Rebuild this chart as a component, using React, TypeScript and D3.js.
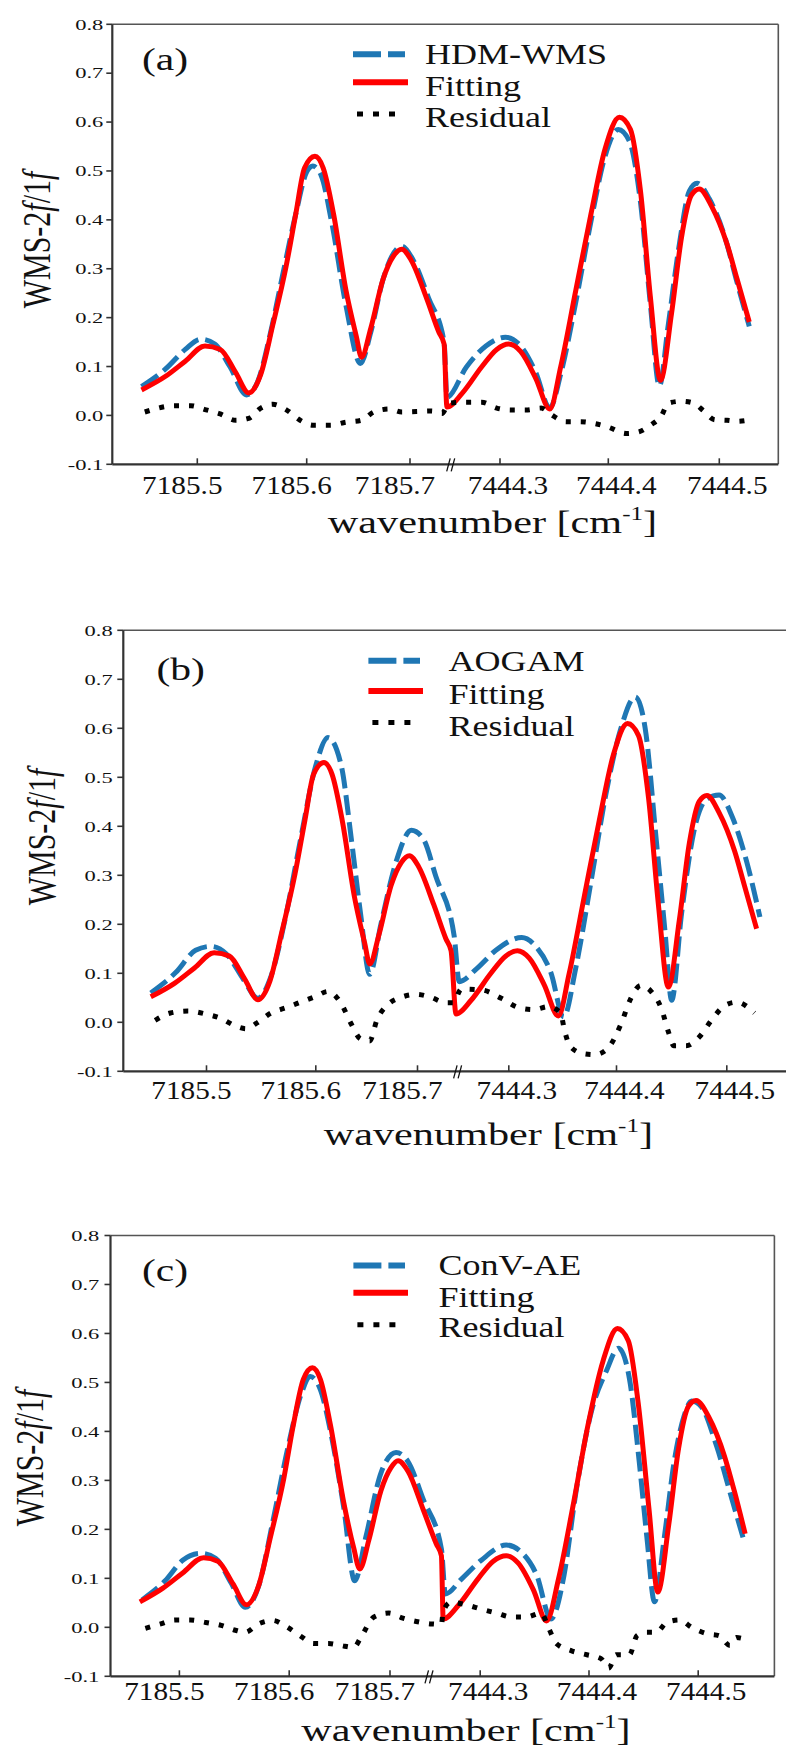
import React from "react";
import * as d3 from "d3";

type Pt = [number, number];

// ---------------- data ----------------
const yTickValues = [-0.1, 0.0, 0.1, 0.2, 0.3, 0.4, 0.5, 0.6, 0.7, 0.8];
const xTicksLeft = [7185.5, 7185.6, 7185.7];
const xTicksRight = [7444.3, 7444.4, 7444.5];
const legendA = ["HDM-WMS", "Fitting", "Residual"];
const legendB = ["AOGAM", "Fitting", "Residual"];
const legendC = ["ConV-AE", "Fitting", "Residual"];

// Fitting curve as read in panels (a) and (b)
const fitAB: Pt[] = [
  [7185.449, 0.052], [7185.471, 0.080], [7185.489, 0.111], [7185.507, 0.142], [7185.521, 0.135],
  [7185.535, 0.088], [7185.547, 0.046], [7185.558, 0.084], [7185.569, 0.185], [7185.581, 0.303],
  [7185.590, 0.412], [7185.598, 0.506], [7185.608, 0.530], [7185.616, 0.506], [7185.626, 0.412],
  [7185.638, 0.256], [7185.648, 0.162], [7185.653, 0.119], [7185.662, 0.178], [7185.674, 0.279],
  [7185.684, 0.326], [7185.692, 0.340], [7185.701, 0.318], [7185.716, 0.240], [7185.728, 0.170],
  [7185.733, 0.146],
  [7444.251, 0.017], [7444.265, 0.045], [7444.283, 0.099], [7444.297, 0.135], [7444.308, 0.146],
  [7444.319, 0.131], [7444.333, 0.076], [7444.346, 0.013], [7444.356, 0.099], [7444.370, 0.256],
  [7444.384, 0.412], [7444.397, 0.545], [7444.410, 0.610], [7444.420, 0.585], [7444.429, 0.459],
  [7444.438, 0.240], [7444.447, 0.072], [7444.457, 0.209], [7444.466, 0.365], [7444.475, 0.451],
  [7444.482, 0.463], [7444.493, 0.428], [7444.507, 0.350], [7444.516, 0.279], [7444.527, 0.191],
];

// Fitting curve as read in panel (c) (against that panel's own ticks)
const fitC: Pt[] = [
  [7185.464, 0.052], [7185.485, 0.080], [7185.503, 0.111], [7185.522, 0.142], [7185.535, 0.135],
  [7185.549, 0.088], [7185.561, 0.046], [7185.572, 0.084], [7185.583, 0.185], [7185.595, 0.303],
  [7185.604, 0.412], [7185.614, 0.506], [7185.623, 0.530], [7185.631, 0.506], [7185.641, 0.412],
  [7185.654, 0.256], [7185.664, 0.162], [7185.670, 0.119], [7185.679, 0.178], [7185.691, 0.279],
  [7185.701, 0.326], [7185.708, 0.340], [7185.718, 0.318], [7185.733, 0.240], [7185.746, 0.170],
  [7185.751, 0.146],
  [7444.266, 0.017], [7444.280, 0.045], [7444.298, 0.099], [7444.312, 0.135], [7444.324, 0.146],
  [7444.335, 0.131], [7444.349, 0.076], [7444.361, 0.013], [7444.372, 0.099], [7444.386, 0.256],
  [7444.399, 0.412], [7444.413, 0.545], [7444.426, 0.610], [7444.436, 0.585], [7444.445, 0.459],
  [7444.455, 0.240], [7444.463, 0.072], [7444.473, 0.209], [7444.482, 0.365], [7444.491, 0.451],
  [7444.498, 0.463], [7444.510, 0.428], [7444.524, 0.350], [7444.533, 0.279], [7444.543, 0.191],
];

const hdmWms: Pt[] = [
  [7185.449, 0.059], [7185.471, 0.095], [7185.489, 0.135], [7185.503, 0.156], [7185.516, 0.146],
  [7185.530, 0.099], [7185.545, 0.042], [7185.555, 0.068], [7185.567, 0.170], [7185.578, 0.287],
  [7185.590, 0.412], [7185.600, 0.498], [7185.606, 0.510], [7185.614, 0.491], [7185.624, 0.397],
  [7185.638, 0.225], [7185.652, 0.106], [7185.662, 0.170], [7185.674, 0.279], [7185.692, 0.346],
  [7185.703, 0.318], [7185.718, 0.240], [7185.733, 0.150],
  [7444.251, 0.037], [7444.269, 0.099], [7444.287, 0.142], [7444.305, 0.160], [7444.319, 0.142],
  [7444.333, 0.088], [7444.346, 0.015], [7444.356, 0.084], [7444.370, 0.232], [7444.384, 0.397],
  [7444.397, 0.530], [7444.409, 0.585], [7444.419, 0.561], [7444.429, 0.436], [7444.438, 0.225],
  [7444.446, 0.060], [7444.454, 0.185], [7444.464, 0.350], [7444.473, 0.459], [7444.480, 0.475],
  [7444.491, 0.443], [7444.505, 0.365], [7444.516, 0.272], [7444.527, 0.182],
];

const residualA: Pt[] = [
  [7185.452, 0.007], [7185.480, 0.020], [7185.494, 0.020], [7185.507, 0.012], [7185.521, 0.003],
  [7185.535, -0.010], [7185.547, -0.006], [7185.558, 0.015], [7185.569, 0.023], [7185.581, 0.012],
  [7185.594, -0.010], [7185.606, -0.020], [7185.623, -0.020], [7185.638, -0.014], [7185.653, -0.010],
  [7185.665, 0.007], [7185.680, 0.013], [7185.692, 0.007], [7185.706, 0.008], [7185.721, 0.009],
  [7185.731, 0.004],
  [7444.253, 0.025], [7444.269, 0.027], [7444.283, 0.027], [7444.297, 0.015], [7444.310, 0.011],
  [7444.324, 0.011], [7444.338, 0.015], [7444.347, 0.002], [7444.361, -0.013], [7444.374, -0.013],
  [7444.388, -0.017], [7444.400, -0.024], [7444.416, -0.037], [7444.427, -0.034], [7444.438, -0.020],
  [7444.448, 0.000], [7444.454, 0.025], [7444.466, 0.029], [7444.477, 0.025], [7444.486, 0.009],
  [7444.496, -0.009], [7444.507, -0.010], [7444.516, -0.012], [7444.525, -0.010],
];

const aogam: Pt[] = [
  [7185.449, 0.060], [7185.472, 0.102], [7185.490, 0.147], [7185.504, 0.155], [7185.518, 0.140],
  [7185.534, 0.087], [7185.547, 0.049], [7185.559, 0.094], [7185.573, 0.222], [7185.586, 0.373],
  [7185.600, 0.524], [7185.612, 0.581], [7185.625, 0.524], [7185.635, 0.373], [7185.644, 0.222],
  [7185.653, 0.098], [7185.664, 0.200], [7185.679, 0.328], [7185.694, 0.392], [7185.706, 0.373],
  [7185.718, 0.298], [7185.736, 0.177],
  [7444.254, 0.083], [7444.270, 0.109], [7444.288, 0.147], [7444.312, 0.173], [7444.325, 0.155],
  [7444.339, 0.102], [7444.351, 0.011], [7444.362, 0.109], [7444.376, 0.283], [7444.390, 0.464],
  [7444.404, 0.600], [7444.417, 0.664], [7444.426, 0.600], [7444.436, 0.373], [7444.444, 0.185],
  [7444.450, 0.045], [7444.459, 0.222], [7444.470, 0.388], [7444.482, 0.456], [7444.493, 0.464],
  [7444.505, 0.419], [7444.518, 0.328], [7444.530, 0.215],
];

const residualB: Pt[] = [
  [7185.453, 0.004], [7185.467, 0.019], [7185.483, 0.023], [7185.499, 0.017], [7185.513, 0.008],
  [7185.527, -0.008], [7185.536, -0.013], [7185.547, 0.000], [7185.559, 0.019], [7185.573, 0.030],
  [7185.586, 0.041], [7185.600, 0.053], [7185.612, 0.063], [7185.625, 0.038], [7185.635, -0.004],
  [7185.644, -0.034], [7185.653, -0.038], [7185.660, 0.004], [7185.672, 0.038], [7185.684, 0.051],
  [7185.699, 0.057], [7185.713, 0.051], [7185.728, 0.040], [7185.735, 0.040],
  [7444.256, 0.068], [7444.275, 0.066], [7444.293, 0.049], [7444.309, 0.030], [7444.323, 0.026],
  [7444.337, 0.032], [7444.348, 0.019], [7444.352, -0.019], [7444.357, -0.049], [7444.369, -0.064],
  [7444.380, -0.066], [7444.392, -0.053], [7444.404, -0.004], [7444.413, 0.049], [7444.422, 0.075],
  [7444.431, 0.064], [7444.441, 0.026], [7444.447, -0.019], [7444.452, -0.048], [7444.463, -0.048],
  [7444.475, -0.030], [7444.486, 0.004], [7444.498, 0.034], [7444.509, 0.041], [7444.525, 0.019],
];

const convAe: Pt[] = [
  [7185.466, 0.056], [7185.487, 0.095], [7185.503, 0.137], [7185.519, 0.151], [7185.533, 0.141],
  [7185.547, 0.091], [7185.560, 0.041], [7185.572, 0.083], [7185.585, 0.215], [7185.599, 0.369],
  [7185.612, 0.477], [7185.621, 0.512], [7185.631, 0.485], [7185.641, 0.400], [7185.654, 0.246],
  [7185.665, 0.095], [7185.676, 0.184], [7185.691, 0.315], [7185.706, 0.357], [7185.718, 0.338],
  [7185.733, 0.261], [7185.751, 0.160],
  [7444.268, 0.068], [7444.283, 0.099], [7444.301, 0.137], [7444.324, 0.168], [7444.338, 0.153],
  [7444.352, 0.106], [7444.365, 0.017], [7444.377, 0.106], [7444.388, 0.276], [7444.402, 0.439],
  [7444.416, 0.524], [7444.427, 0.570], [7444.437, 0.508], [7444.446, 0.338], [7444.453, 0.184],
  [7444.460, 0.052], [7444.469, 0.184], [7444.478, 0.338], [7444.487, 0.431], [7444.494, 0.462],
  [7444.503, 0.450], [7444.517, 0.369], [7444.531, 0.261], [7444.542, 0.176],
];

const residualC: Pt[] = [
  [7185.469, -0.002], [7185.483, 0.007], [7185.496, 0.015], [7185.510, 0.015], [7185.524, 0.010],
  [7185.538, 0.004], [7185.551, -0.006], [7185.560, -0.010], [7185.572, 0.007], [7185.585, 0.014],
  [7185.597, 0.002], [7185.612, -0.019], [7185.624, -0.033], [7185.639, -0.033], [7185.651, -0.037],
  [7185.664, -0.041], [7185.671, -0.021], [7185.684, 0.021], [7185.699, 0.029], [7185.711, 0.020],
  [7185.726, 0.012], [7185.741, 0.007], [7185.751, 0.006],
  [7444.266, 0.033], [7444.273, 0.051], [7444.287, 0.046], [7444.301, 0.037], [7444.315, 0.029],
  [7444.329, 0.021], [7444.342, 0.021], [7444.356, 0.029], [7444.363, -0.002], [7444.370, -0.033],
  [7444.384, -0.048], [7444.398, -0.056], [7444.411, -0.064], [7444.418, -0.083], [7444.425, -0.056],
  [7444.437, -0.056], [7444.444, -0.017], [7444.453, -0.010], [7444.462, -0.010], [7444.471, 0.010],
  [7444.483, 0.015], [7444.494, 0.000], [7444.508, -0.013], [7444.519, -0.017], [7444.529, -0.037],
  [7444.535, -0.021], [7444.544, -0.025],
];

// ---------------- styles / layout ----------------
const FONT = "'Liberation Serif', 'Times New Roman', serif";
const BLUE = "#1f77b4";
const RED = "#ff0000";
const AXIS = "#333333";

interface Layout {
  tag: string;
  names: string[];
  blue: Pt[];
  fit: Pt[];
  res: Pt[];
  top: number;
  bottom: number;
  left: number;
  right: number;
  showRight: boolean;
  leftPx: number[];
  rightPx: number[];
  breakX: number;
  legX0: number;
  legX1: number;
  legTextX: number;
  legLineY: number[];
  legTextY: number[];
  tagX: number;
  tagY: number;
  xTitleX: number;
  xTitleY: number;
  yTitleX: number;
  yTitleY: number;
  yLabelRight: number;
  xLabelY: number;
}

const panels: Layout[] = [
  {
    tag: "(a)", names: legendA, blue: hdmWms, fit: fitAB, res: residualA,
    top: 24.3, bottom: 464.3, left: 112.3, right: 778.3, showRight: true,
    leftPx: [197.3, 306.7, 410], rightPx: [500, 608.3, 719.3], breakX: 451.7,
    legX0: 353, legX1: 405, legTextX: 425, legLineY: [54.3, 82.3, 114], legTextY: [64.3, 95.7, 127.4],
    tagX: 142, tagY: 70, xTitleX: 492.5, xTitleY: 533, yTitleX: 50, yTitleY: 240,
    yLabelRight: 103.3, xLabelY: 493.7,
  },
  {
    tag: "(b)", names: legendB, blue: aogam, fit: fitAB, res: residualB,
    top: 630.3, bottom: 1071.3, left: 123.3, right: 786, showRight: false,
    leftPx: [206.5, 315.8, 417.5], rightPx: [508.8, 616.5, 726.8], breakX: 458.6,
    legX0: 368.4, legX1: 420, legTextX: 448.6, legLineY: [660.7, 691, 722.4], legTextY: [670.6, 704, 736],
    tagX: 156.4, tagY: 680, xTitleX: 488.4, xTitleY: 1145, yTitleX: 55, yTitleY: 837,
    yLabelRight: 112.7, xLabelY: 1099.3,
  },
  {
    tag: "(c)", names: legendC, blue: convAe, fit: fitC, res: residualC,
    top: 1235.5, bottom: 1676.3, left: 110.5, right: 774.4, showRight: true,
    leftPx: [179.4, 289.2, 390], rightPx: [480.2, 589, 698.2], breakX: 430,
    legX0: 353.4, legX1: 405, legTextX: 438.6, legLineY: [1265.5, 1292.7, 1324.7], legTextY: [1275, 1307, 1337.2],
    tagX: 142, tagY: 1280.6, xTitleX: 466, xTitleY: 1741, yTitleX: 43, yTitleY: 1458,
    yLabelRight: 99.3, xLabelY: 1700,
  },
];

const styles = [
  { stroke: BLUE, width: 5, dash: "20 7" },
  { stroke: RED, width: 5, dash: undefined as string | undefined },
  { stroke: "#000000", width: 5, dash: "5 10" },
];

function Panel({ p }: { p: Layout }) {
  const y = d3.scaleLinear().domain([-0.1, 0.8]).range([p.bottom, p.top]);
  const xl = d3.scaleLinear().domain(xTicksLeft).range(p.leftPx);
  const xr = d3.scaleLinear().domain(xTicksRight).range(p.rightPx);
  const xOf = (w: number) => (w < 7300 ? xl(w) : xr(w));
  const line = d3
    .line<Pt>()
    .x((d) => xOf(d[0]))
    .y((d) => y(d[1]))
    .curve(d3.curveMonotoneX);

  const series = [p.blue, p.fit, p.res];

  return (
    <g>
      {/* frame */}
      <line x1={p.left} y1={p.top} x2={p.right} y2={p.top} stroke="#555" strokeWidth={1.6} />
      {p.showRight && (
        <line x1={p.right} y1={p.top} x2={p.right} y2={p.bottom} stroke="#555" strokeWidth={1.6} />
      )}
      <line x1={p.left} y1={p.top} x2={p.left} y2={p.bottom} stroke={AXIS} strokeWidth={2.2} />
      <line x1={p.left} y1={p.bottom} x2={p.right} y2={p.bottom} stroke={AXIS} strokeWidth={2.2} />

      {/* y ticks */}
      {yTickValues.map((t) => (
        <g key={"y" + t}>
          <line x1={p.left - 6} x2={p.left} y1={y(t)} y2={y(t)} stroke={AXIS} strokeWidth={1.6} />
          <g transform={`translate(${p.yLabelRight},${y(t) + 5.3}) scale(1.45,1)`}>
            <text textAnchor="end" fontFamily={FONT} fontSize={15.5} fill="#111">
              {t.toFixed(1)}
            </text>
          </g>
        </g>
      ))}

      {/* x ticks */}
      {xTicksLeft.map((t) => (
        <g key={"xl" + t}>
          <line x1={xl(t)} x2={xl(t)} y1={p.bottom} y2={p.bottom - 6} stroke={AXIS} strokeWidth={1.6} />
          <g transform={`translate(${xl(t) - 15},${p.xLabelY}) scale(1.17,1)`}>
            <text textAnchor="middle" fontFamily={FONT} fontSize={25} fill="#111">
              {t.toFixed(1)}
            </text>
          </g>
        </g>
      ))}
      {xTicksRight.map((t) => (
        <g key={"xr" + t}>
          <line x1={xr(t)} x2={xr(t)} y1={p.bottom} y2={p.bottom - 6} stroke={AXIS} strokeWidth={1.6} />
          <g transform={`translate(${xr(t) + 8},${p.xLabelY}) scale(1.17,1)`}>
            <text textAnchor="middle" fontFamily={FONT} fontSize={25} fill="#111">
              {t.toFixed(1)}
            </text>
          </g>
        </g>
      ))}

      {/* axis break marker */}
      <g stroke="#111" strokeWidth={1.3}>
        <line x1={p.breakX - 5} y1={p.bottom + 7} x2={p.breakX - 1.5} y2={p.bottom - 6} />
        <line x1={p.breakX - 0.5} y1={p.bottom + 7} x2={p.breakX + 3} y2={p.bottom - 6} />
      </g>

      {/* series */}
      {series.map((s, i) => (
        <path
          key={"s" + i}
          d={line(s) || ""}
          fill="none"
          stroke={styles[i].stroke}
          strokeWidth={styles[i].width}
          strokeDasharray={styles[i].dash}
          strokeLinejoin="round"
          strokeLinecap="butt"
        />
      ))}

      {/* legend */}
      {p.names.map((n, i) => (
        <g key={"lg" + i}>
          <line
            x1={p.legX0 + (i === 2 ? 4 : 0)}
            x2={p.legX1 + (i === 1 ? 3 : 0)}
            y1={p.legLineY[i]}
            y2={p.legLineY[i]}
            stroke={styles[i].stroke}
            strokeWidth={i === 2 ? 5 : 6}
            strokeDasharray={i === 0 ? "28 7" : i === 2 ? "6 10" : undefined}
          />
          <g transform={`translate(${p.legTextX},${p.legTextY[i]}) scale(1.2,1)`}>
            <text fontFamily={FONT} fontSize={30} fill="#111">
              {n}
            </text>
          </g>
        </g>
      ))}

      {/* panel tag */}
      <g transform={`translate(${p.tagX},${p.tagY}) scale(1.3,1)`}>
        <text fontFamily={FONT} fontSize={32} fill="#111">
          {p.tag}
        </text>
      </g>

      {/* x title */}
      <g transform={`translate(${p.xTitleX},${p.xTitleY}) scale(1.32,1)`}>
        <text textAnchor="middle" fontFamily={FONT} fontSize={32} fill="#111">
          wavenumber [cm
          <tspan fontSize={19} dy={-13}>
            -1
          </tspan>
          <tspan dy={13}>]</tspan>
        </text>
      </g>

      {/* y title */}
      <g transform={`translate(${p.yTitleX},${p.yTitleY}) scale(1.35,1) rotate(-90)`}>
        <text textAnchor="middle" fontFamily={FONT} fontSize={30} fill="#111">
          WMS-2<tspan fontStyle="italic">f</tspan>/1<tspan fontStyle="italic">f</tspan>
        </text>
      </g>
    </g>
  );
}

export default function App() {
  return (
    <svg
      width={786}
      height={1751}
      viewBox="0 0 786 1751"
      style={{ position: "absolute", left: 0, top: 0, display: "block", background: "#fff" }}
    >
      <rect x={0} y={0} width={786} height={1751} fill="#fff" />
      {panels.map((p) => (
        <Panel key={p.tag} p={p} />
      ))}
    </svg>
  );
}
